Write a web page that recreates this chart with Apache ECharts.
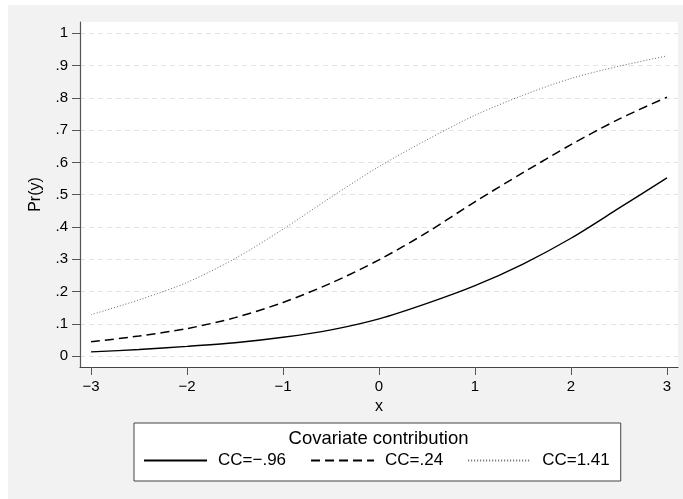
<!DOCTYPE html>
<html>
<head>
<meta charset="utf-8">
<script src="https://cdn.jsdelivr.net/npm/echarts@6/dist/echarts.min.js"></script>
<style>
  html, body { margin: 0; padding: 0; background: #fff; }
  #chart { width: 683px; height: 499px; }
</style>
</head>
<body>
<div id="chart"></div>
<script>
// values
var xs = [-3, -2.5, -2, -1.5, -1, -0.5, 0, 0.5, 1, 1.5, 2, 2.5, 3];
var ccNeg96 = [0.013, 0.020, 0.030, 0.041, 0.058, 0.081, 0.115, 0.163, 0.218, 0.285, 0.365, 0.458, 0.552];
var cc24 = [0.044, 0.062, 0.085, 0.119, 0.166, 0.226, 0.298, 0.383, 0.478, 0.568, 0.655, 0.734, 0.802];
var cc141 = [0.128, 0.174, 0.228, 0.302, 0.393, 0.492, 0.587, 0.670, 0.746, 0.808, 0.860, 0.898, 0.930];
var seriesNames = ['CC=\u2212.96', 'CC=.24', 'CC=1.41'];
var xTicks = [-3, -2, -1, 0, 1, 2, 3];
var yTicks = [0, 0.1, 0.2, 0.3, 0.4, 0.5, 0.6, 0.7, 0.8, 0.9, 1];
var yGrid = [0, 0.1, 0.2, 0.3, 0.4, 0.5, 0.6, 0.7, 0.8, 0.9];

function pairs(ys) {
  return xs.map(function (x, i) { return [x, ys[i]]; });
}

var font = '"Liberation Sans", Arial, Helvetica, sans-serif';
var chart = echarts.init(document.getElementById('chart'));

chart.setOption({
  backgroundColor: '#fff',
  animation: false,
  graphic: [
    { type: 'rect', z: -10, shape: { x: 8, y: 5, width: 675, height: 494 }, style: { fill: '#f2f2f2' } },
    { type: 'text', z: 10, x: 378.5, y: 429,
      style: { text: 'Covariate contribution', textAlign: 'center', textVerticalAlign: 'top',
               fontSize: 18.5, fontFamily: font, fill: '#000' } }
  ],
  grid: {
    left: 80, right: 5, top: 22, bottom: 132,
    show: true, backgroundColor: '#fff', borderWidth: 0
  },
  legend: {
    left: 134, top: 423,
    padding: [29, 11, 12, 9],
    backgroundColor: '#fff', borderColor: '#444', borderWidth: 1, borderRadius: 0,
    itemWidth: 63, itemHeight: 14, itemGap: 24,
    itemStyle: { opacity: 0 },
    textStyle: { fontSize: 17, fontFamily: font, color: '#000', padding: [0, 0, 0, 6] },
    data: seriesNames
  },
  xAxis: {
    type: 'value',
    min: -3.115, max: 3.115,
    name: 'x', nameLocation: 'middle', nameGap: 28,
    nameTextStyle: { fontSize: 16, fontFamily: font, color: '#000' },
    axisLine: { show: true, onZero: false, lineStyle: { color: '#444', width: 1.2 } },
    axisTick: { show: true, length: 8, customValues: xTicks, lineStyle: { color: '#555' } },
    axisLabel: {
      customValues: xTicks, margin: 12, fontSize: 15, fontFamily: font, color: '#000',
      formatter: function (v) { return String(v).replace('-', '\u2212'); }
    },
    splitLine: { show: false }
  },
  yAxis: {
    type: 'value',
    min: -0.034, max: 1.035,
    name: 'Pr(y)', nameLocation: 'middle', nameGap: 36,
    nameTextStyle: { fontSize: 16, fontFamily: font, color: '#000' },
    axisLine: { show: true, onZero: false, lineStyle: { color: '#555', width: 1.2 } },
    axisTick: { show: true, length: 8, customValues: yTicks, lineStyle: { color: '#555' } },
    axisLabel: {
      customValues: yTicks, margin: 12, fontSize: 15, fontFamily: font, color: '#000',
      formatter: function (v) { return String(v).replace('0.', '.'); }
    },
    splitLine: {
      show: true, customValues: yGrid,
      lineStyle: { color: '#e3e3e3', type: [5, 4], width: 1 }
    }
  },
  series: [
    {
      name: seriesNames[0], type: 'line', smooth: 0.3, symbol: 'none',
      data: pairs(ccNeg96),
      lineStyle: { color: '#000', width: 1.4, type: 'solid' },
      itemStyle: { color: '#000' }
    },
    {
      name: seriesNames[1], type: 'line', smooth: 0.3, symbol: 'none',
      data: pairs(cc24),
      lineStyle: { color: '#000', width: 1.5, type: [9, 5] },
      itemStyle: { color: '#000' }
    },
    {
      name: seriesNames[2], type: 'line', smooth: 0.3, symbol: 'none',
      data: pairs(cc141),
      lineStyle: { color: '#666', width: 1, type: [1, 2] },
      itemStyle: { color: '#666' }
    }
  ]
});
</script>
</body>
</html>
